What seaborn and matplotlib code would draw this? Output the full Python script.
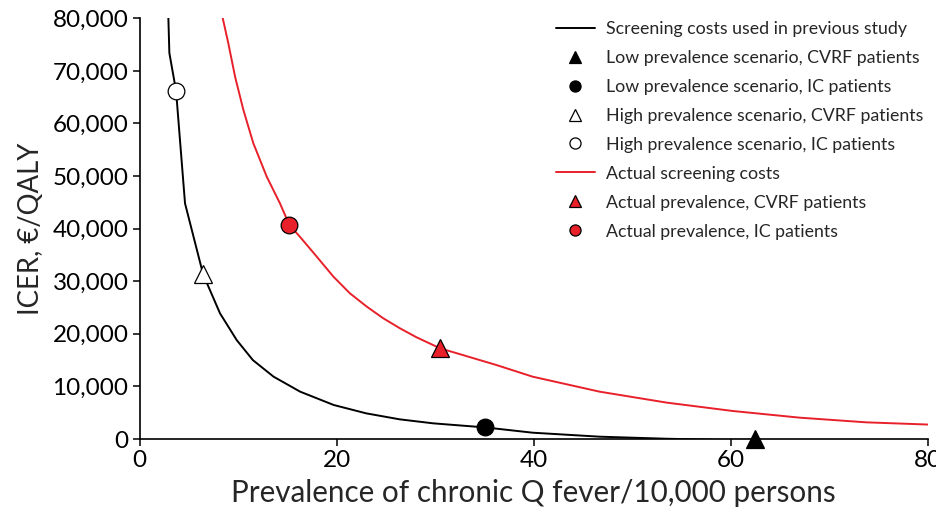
import numpy as np
import pandas as pd
import seaborn as sns
import matplotlib.pyplot as plt
from matplotlib.lines import Line2D
from matplotlib.ticker import FuncFormatter

# curve: screening costs used in previous study (black)
prev_x = [2.92, 3.02, 3.7, 4.61, 6.45, 8.16, 9.86, 11.5, 13.6, 16.3, 19.7, 23.0,
          26.4, 29.8, 35.1, 39.9, 46.7, 53.5, 58.9, 62.5]
prev_y = [80000, 73400, 66200, 44800, 31300, 23900, 18800, 15000, 11850, 9000,
          6470, 4880, 3740, 2980, 2200, 1200, 440, 50, -150, -150]

# curve: actual screening costs (red)
act_x = [8.44, 9.0, 9.69, 10.53, 11.54, 12.9, 14.25, 15.2, 16.3, 17.97, 19.66,
         21.35, 23.04, 24.73, 26.42, 28.1, 30.5, 33.2, 36.2, 39.9, 46.7, 53.5,
         60.2, 67.0, 73.75, 80.0]
act_y = [80000, 75300, 68900, 62600, 56260, 49900, 44800, 40700, 38400, 34700,
         30900, 27700, 25200, 22960, 21060, 19350, 17250, 15750, 14080, 11850,
         9000, 6920, 5330, 4060, 3170, 2750]

# scenario points
pt_labels = ["Low prevalence scenario, CVRF patients",
             "Low prevalence scenario, IC patients",
             "High prevalence scenario, CVRF patients",
             "High prevalence scenario, IC patients",
             "Actual prevalence, CVRF patients",
             "Actual prevalence, IC patients"]
pt_x = [62.5, 35.1, 6.45, 3.7, 30.5, 15.2]
pt_y = [0, 2250, 31300, 66200, 17300, 40700]
pt_marker = ["^", "o", "^", "o", "^", "o"]
pt_face = ["black", "black", "white", "white", "#e8202a", "#e8202a"]

line_labels = ["Screening costs used in previous study", "Actual screening costs"]

sns.set_style("ticks")
plt.rcParams["font.family"] = ["Lato", "DejaVu Sans"]

fig = plt.figure(figsize=(9.37, 5.22), dpi=100)
ax = fig.add_axes([0.149, 0.159, 0.841, 0.806])

prev_df = pd.DataFrame({"x": prev_x, "y": prev_y})
act_df = pd.DataFrame({"x": act_x, "y": act_y})
sns.lineplot(data=prev_df, x="x", y="y", ax=ax, color="black", lw=1.4,
             sort=False, estimator=None)
sns.lineplot(data=act_df, x="x", y="y", ax=ax, color="#e8202a", lw=1.4,
             sort=False, estimator=None)

for x, y, m, fc in zip(pt_x, pt_y, pt_marker, pt_face):
    ax.plot([x], [y], marker=m, ms=12 if m == "o" else 12.5, mfc=fc,
            mec="black", mew=0.9, ls="none", clip_on=False, zorder=5)

ax.set_xlim(0, 80)
ax.set_ylim(0, 80000)
ax.set_xticks([0, 20, 40, 60, 80])
ax.set_yticks(np.arange(0, 80001, 10000))
ax.yaxis.set_major_formatter(FuncFormatter(lambda v, p: f"{int(v):,}"))
ax.tick_params(axis="both", labelsize=17.5, direction="out", length=5,
               width=1.1, colors="black", pad=3)
for s in ["left", "bottom"]:
    ax.spines[s].set_linewidth(1.2)
    ax.spines[s].set_color("black")
sns.despine(ax=ax)

ax.set_xlabel("Prevalence of chronic Q fever/10,000 persons", fontsize=21.3,
              labelpad=6)
ax.set_ylabel("ICER, €/QALY", fontsize=19.8, labelpad=6)

handles = [Line2D([], [], color="black", lw=1.4)]
for i in range(4):
    handles.append(Line2D([], [], marker=pt_marker[i], ls="none", ms=8,
                          mfc=pt_face[i], mec="black", mew=0.9))
handles.append(Line2D([], [], color="#e8202a", lw=1.4))
for i in range(4, 6):
    handles.append(Line2D([], [], marker=pt_marker[i], ls="none", ms=8,
                          mfc=pt_face[i], mec="black", mew=0.9))
labels = [line_labels[0]] + pt_labels[:4] + [line_labels[1]] + pt_labels[4:]

ax.legend(handles, labels, loc="upper left", bbox_to_anchor=(0.508, 1.032),
          frameon=False, fontsize=12.8, handlelength=2.2, labelspacing=0.73,
          handletextpad=0.6)

fig.savefig("out.png", dpi=100)
